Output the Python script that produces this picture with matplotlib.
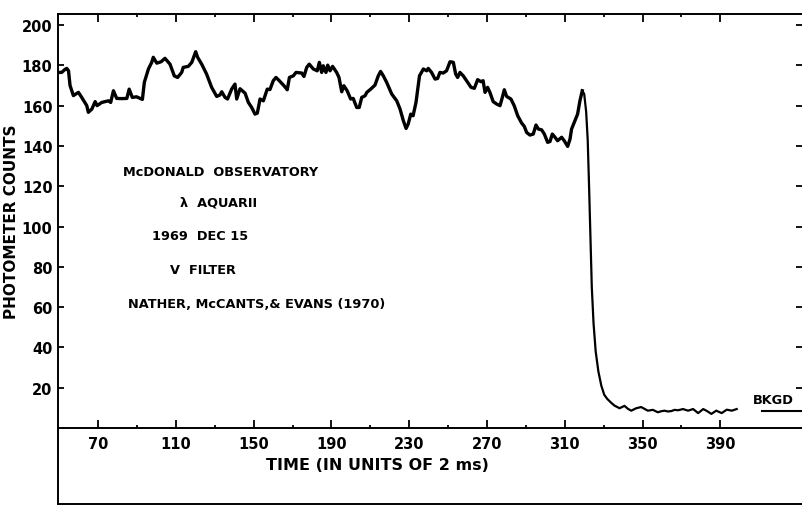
import matplotlib
matplotlib.use('Agg')
import matplotlib.pyplot as plt
from matplotlib.lines import Line2D

# lunar occultation light curve, lambda Aquarii
time = [49.5, 51.3, 53.0, 53.9, 54.8, 55.6, 57.3, 59.9, 61.6, 64.2, 65.0, 66.8, 68.5, 69.5,
        71.9, 75.3, 76.5, 77.9, 79.6, 82.2, 84.8, 86.0, 87.6, 89.8, 91.6, 92.8, 93.8, 95.9,
        97.6, 98.4, 100.2, 102.4, 104.4, 107.0, 109.2, 110.9, 113.0, 113.8, 116.4, 118.2,
        120.2, 121.2, 123.3, 125.8, 128.4, 131.0, 132.7, 133.6, 135.3, 136.6, 138.7, 140.4,
        141.3, 143.0, 145.6, 147.3, 149.0, 150.7, 151.9, 153.3, 155.0, 157.0, 158.4, 160.1,
        161.5, 163.2, 165.6, 167.3, 168.4, 170.4, 171.8, 174.7, 175.9, 177.3, 178.6, 180.7,
        182.7, 183.8, 185.0, 185.8, 187.2, 188.1, 189.3, 190.6, 192.7, 193.9, 195.3, 196.4,
        198.1, 199.9, 201.2, 203.0, 204.3, 205.6, 207.3, 208.2, 210.2, 212.4, 214.1, 215.3,
        216.7, 218.4, 221.0, 223.6, 225.3, 227.0, 228.4, 229.5, 230.8, 232.0, 233.5, 235.3,
        237.3, 239.0, 239.8, 241.5, 243.3, 244.6, 245.8, 247.5, 249.2, 251.0, 252.7, 253.9,
        254.9, 256.1, 257.8, 259.5, 261.8, 263.5, 265.2, 266.9, 268.0, 269.0, 270.3, 271.5,
        273.2, 275.0, 276.7, 277.9, 278.9, 280.1, 282.3, 284.0, 285.8, 287.8, 289.2, 290.4,
        292.1, 293.8, 295.2, 296.4, 298.1, 299.5, 301.2, 302.4, 303.6, 305.0, 306.3, 308.4,
        309.7, 311.5, 312.7, 313.5, 315.2, 316.6, 317.8, 319.0]
counts = [176.5, 176.5, 178.0, 178.5, 177.3, 170.0, 165.0, 166.6, 164.1, 160.0, 156.7, 158.3,
          162.0, 160.0, 161.6, 162.4, 161.6, 167.4, 163.6, 163.5, 163.6, 168.2, 164.1, 164.4,
          163.6, 163.1, 171.6, 178.2, 181.5, 184.0, 181.1, 181.8, 183.5, 180.6, 174.8, 174.0,
          176.5, 179.0, 179.5, 181.5, 186.8, 184.0, 180.6, 175.7, 169.1, 164.6, 165.3, 166.9,
          164.1, 163.3, 168.2, 170.7, 163.3, 168.4, 166.2, 161.6, 159.1, 155.8, 156.3, 163.3,
          162.4, 168.2, 168.0, 172.4, 174.0, 172.4, 169.9, 167.9, 174.0, 174.8, 176.5, 176.2,
          174.5, 179.0, 180.6, 178.2, 177.3, 181.5, 176.5, 179.8, 176.5, 180.1, 177.3, 179.5,
          176.5, 174.0, 166.9, 169.9, 167.4, 163.3, 163.6, 159.1, 159.1, 164.1, 164.9, 166.6,
          168.2, 170.2, 174.8, 177.0, 174.8, 171.6, 165.8, 162.4, 158.3, 152.5, 148.7, 150.9,
          155.8, 155.0, 161.6, 174.8, 178.2, 177.3, 178.5, 176.5, 173.2, 173.5, 176.5, 176.2,
          177.3, 181.8, 181.5, 175.7, 174.0, 176.5, 174.8, 172.4, 169.1, 168.6, 172.9, 171.9,
          172.4, 166.6, 169.1, 166.6, 162.0, 160.8, 160.0, 164.1, 167.9, 164.6, 163.3, 160.0,
          155.0, 151.4, 149.7, 146.7, 145.4, 145.9, 150.4, 148.4, 148.0, 145.9, 141.8, 142.2,
          145.9, 144.3, 142.6, 144.3, 142.6, 139.8, 143.4, 148.4, 152.5, 155.8, 162.4, 167.4]

# after the peak: the drop and the background
time_drop = [319.0, 320.0, 321.0, 321.8, 322.5, 323.2, 323.9, 324.8, 325.9, 327.3, 328.8,
             330.3, 331.8, 333.9, 335.6, 338.2, 340.7, 342.5, 344.2, 346.7, 349.3, 351.0,
             352.7, 355.3, 357.9, 359.5, 361.3, 363.0, 364.8, 366.5, 368.2, 370.8, 373.4,
             376.0, 378.6, 381.2, 383.0, 385.4, 387.9, 390.7, 393.3, 395.9, 398.4]
counts_drop = [167.4, 165.8, 157.0, 143.0, 120.0, 95.0, 70.0, 52.0, 38.0, 28.0, 21.0,
               16.5, 14.5, 12.5, 11.1, 9.8, 11.0, 9.5, 8.6, 9.8, 10.4, 9.5,
               8.6, 9.0, 7.8, 8.3, 8.6, 8.2, 8.4, 9.0, 8.8, 9.4, 8.6,
               9.4, 7.4, 9.4, 8.5, 7.0, 8.6, 7.4, 9.1, 8.6, 9.4]

bkgd_level = 8.5
bkgd_span = [411.5, 432]

x_major = [70, 110, 150, 190, 230, 270, 310, 350, 390]
x_minor = [90, 130, 170, 210, 250, 290, 330, 370]
y_ticks = [20, 40, 60, 80, 100, 120, 140, 160, 180, 200]

notes = ['McDONALD  OBSERVATORY', 'λ  AQUARII', '1969  DEC 15', 'V  FILTER',
         'NATHER, McCANTS,& EVANS (1970)']

plt.rcParams['font.family'] = 'DejaVu Sans'
plt.rcParams['font.weight'] = 'bold'
plt.rcParams['axes.labelweight'] = 'bold'

W, H = 802, 510
fig = plt.figure(figsize=(W / 100, H / 100), dpi=100)
ax = fig.add_axes([58 / W, (H - 429) / H, 1 - 58 / W, (429 - 15) / H])

ax.plot(time, counts, color='black', lw=2.4, solid_joinstyle='round')
ax.plot(time_drop, counts_drop, color='black', lw=1.6, solid_joinstyle='round')
ax.plot(bkgd_span, [bkgd_level, bkgd_level], color='black', lw=1.5, clip_on=False)

ax.set_xlim(49.4, 432)
ax.set_ylim(0, 205.5)
ax.set_xticks(x_major)
ax.set_xticks(x_minor, minor=True)
ax.set_yticks(y_ticks)

ax.tick_params(axis='both', which='both', direction='in', top=True, right=True,
               width=1.3, labelsize=10.5)
ax.tick_params(axis='x', which='major', length=6, pad=6)
ax.tick_params(axis='x', which='minor', length=2.5)
ax.tick_params(axis='y', length=4, pad=4)

for side in ['left', 'top', 'bottom']:
    ax.spines[side].set_linewidth(1.4)
ax.spines['right'].set_visible(False)

ax.set_xlabel('TIME (IN UNITS OF 2 ms)', fontsize=11.5)
ax.xaxis.set_label_coords(0.43, -0.07)
ax.set_ylabel('PHOTOMETER COUNTS', fontsize=11)
ax.yaxis.set_label_coords(-0.053, 0.5)

# lower part of the frame, below the time axis
fig.add_artist(Line2D([58 / W, 58 / W], [(H - 429) / H, (H - 505) / H],
                      transform=fig.transFigure, color='black', lw=1.4))
fig.add_artist(Line2D([58 / W, 1.0], [(H - 505) / H, (H - 505) / H],
                      transform=fig.transFigure, color='black', lw=1.4))

note_pos = [(123, 172), (180, 203), (152, 236), (170, 270), (128, 305)]
for (px, py), s in zip(note_pos, notes):
    fig.text(px / W, 1 - py / H, s, ha='left', va='center', fontsize=9.3)
fig.text(753 / W, 1 - 401 / H, 'BKGD', ha='left', va='center', fontsize=9.3)

fig.savefig('out.png', dpi=100)
